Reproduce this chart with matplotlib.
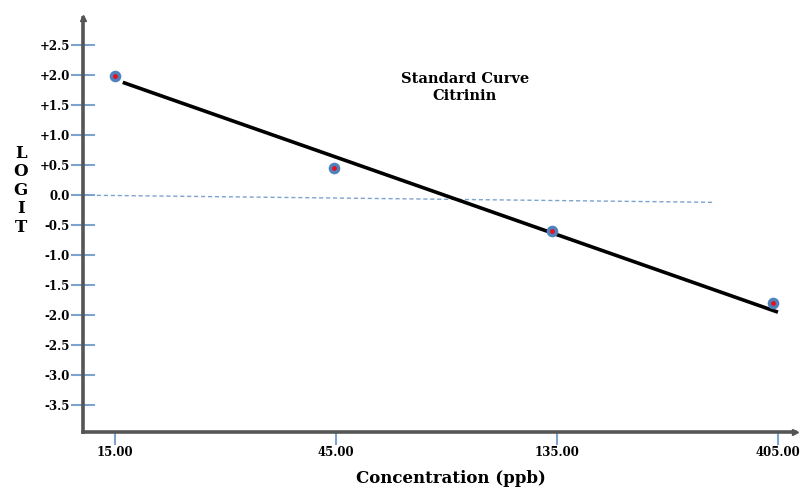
import matplotlib
matplotlib.use("Agg")
import matplotlib.pyplot as plt

# Standard curve data (citrinin)
conc_ppb = [15.0, 44.5, 132.0, 396.0]
logit = [1.98, 0.45, -0.60, -1.79]

# trend line as drawn in the figure
fit_conc = [15.6, 405.0]
fit_logit = [1.88, -1.95]

x_ticks = [15.0, 45.0, 135.0, 405.0]
x_tick_labels = ["15.00", "45.00", "135.00", "405.00"]
y_ticks = [2.5, 2.0, 1.5, 1.0, 0.5, 0.0, -0.5, -1.0, -1.5, -2.0, -2.5, -3.0, -3.5]
y_tick_labels = ["+2.5", "+2.0", "+1.5", "+1.0", "+0.5", "0.0", "-0.5",
                 "-1.0", "-1.5", "-2.0", "-2.5", "-3.0", "-3.5"]

# faint dashed reference line near zero
zero_x = [12.8, 296.0]
zero_y = [0.0, -0.12]

serif = ["DejaVu Serif"]
axis_col = "#555555"
tick_col = "#7ea3cf"

fig = plt.figure(figsize=(8.01, 4.90), dpi=100)
ax = fig.add_axes([0.1036, 0.118, 0.889, 0.845])
ax.set_xscale("log")
ax.set_xlim(12.8, 441)
ax.set_ylim(-3.95, 2.95)

ax.plot(fit_conc, fit_logit, color="black", linewidth=2.6,
        solid_capstyle="butt", zorder=3)

ax.plot(zero_x, zero_y, color=tick_col, linestyle=(0, (3, 2)), linewidth=1.0, zorder=2)

ax.scatter(conc_ppb, logit, s=70, color="#4f81bd", zorder=4, linewidths=0)
ax.scatter(conc_ppb, logit, s=12, color="#e8111b", zorder=5, linewidths=0)

for side in ("top", "right"):
    ax.spines[side].set_visible(False)
for side in ("left", "bottom"):
    ax.spines[side].set_color(axis_col)
    ax.spines[side].set_linewidth(2.6)

# arrow heads on the axes
ax.plot(1, 0, ">", color=axis_col, markersize=5, transform=ax.transAxes, clip_on=False)
ax.plot(0, 1, "^", color=axis_col, markersize=5, transform=ax.transAxes, clip_on=False)

ax.set_xticks(x_ticks)
ax.set_xticklabels(x_tick_labels)
ax.xaxis.set_minor_locator(matplotlib.ticker.NullLocator())
ax.set_yticks(y_ticks)
ax.set_yticklabels(y_tick_labels)
ax.tick_params(axis="x", direction="out", length=9, width=1.5, color=tick_col, pad=1)
ax.tick_params(axis="y", direction="inout", length=17, width=1.5, color=tick_col, pad=1)
for lab in ax.get_xticklabels() + ax.get_yticklabels():
    lab.set_family(serif)
    lab.set_fontweight("bold")
    lab.set_fontsize(8.5)

ax.set_xlabel("Concentration (ppb)", family=serif, fontweight="bold", fontsize=12,
              va="center")
ax.xaxis.set_label_coords(0.517, -0.112)
fig.text(0.026, 0.612, "L\nO\nG\nI\nT", family=serif, fontweight="bold", fontsize=12,
         ha="center", va="center", linespacing=1.12)

ax.text(0.536, 0.832, "Standard Curve\nCitrinin", transform=ax.transAxes, family=serif,
        fontweight="bold", fontsize=10.5, ha="center", va="center", linespacing=1.3)

fig.savefig("out.png", dpi=100)
